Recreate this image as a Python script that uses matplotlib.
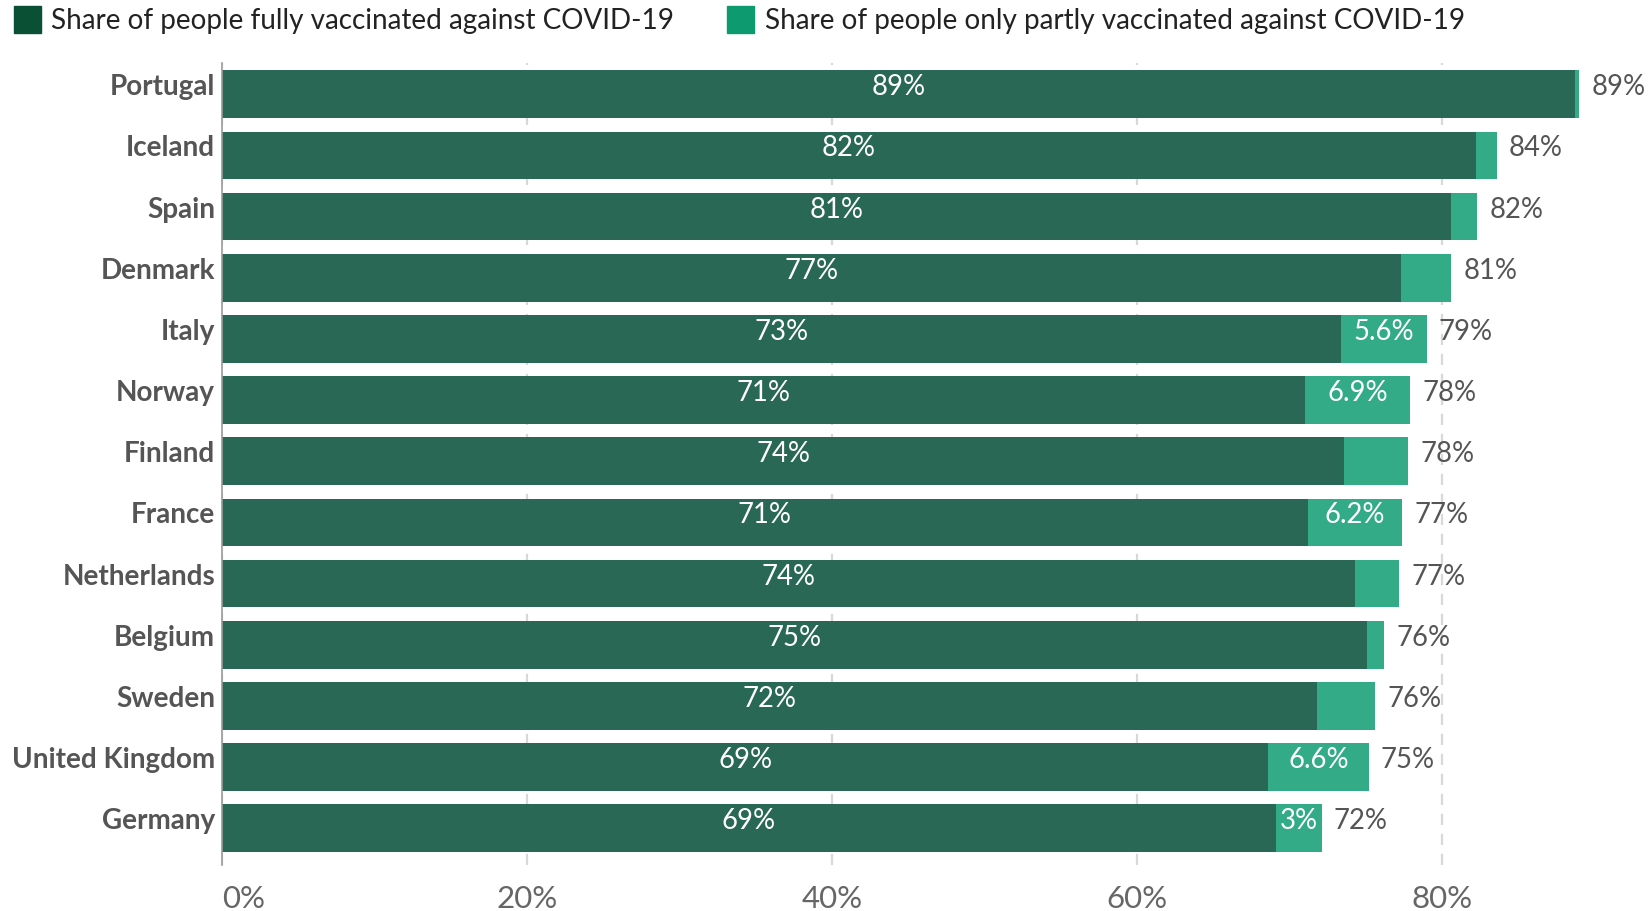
import matplotlib
matplotlib.use("Agg")
import matplotlib.pyplot as plt
from matplotlib.patches import Rectangle

plt.rcParams['font.family'] = ['Lato', 'DejaVu Sans']

# data (top to bottom)
countries = ["Portugal", "Iceland", "Spain", "Denmark", "Italy", "Norway", "Finland",
             "France", "Netherlands", "Belgium", "Sweden", "United Kingdom", "Germany"]
fully = [88.7, 82.2, 80.6, 77.3, 73.4, 71.0, 73.6, 71.2, 74.3, 75.1, 71.8, 68.6, 69.1]
partly = [0.3, 1.4, 1.7, 3.3, 5.6, 6.9, 4.2, 6.2, 2.9, 1.1, 3.8, 6.6, 3.0]
# which partial segments carry an inside label
show_partly = [False, False, False, False, True, True, False, True, False, False, False, True, True]
xticks = [0, 20, 40, 60, 80]

DARK = "#296854"
LIGHT = "#32ab86"
LEG_DARK = "#0a5035"
LEG_LIGHT = "#0c9a6e"

W, H = 1652, 912
fig = plt.figure(figsize=(W / 100, H / 100), dpi=100)
ax_left, ax_right, ax_top, ax_bottom = 222, 1652, 64, 866
ax = fig.add_axes([ax_left / W, 1 - ax_bottom / H, (ax_right - ax_left) / W, (ax_bottom - ax_top) / H])

px_per_pct = 15.25
ax.set_xlim(0, (ax_right - ax_left) / px_per_pct)
n = len(countries)
ax.set_ylim(n - 1 + 0.6, -0.51)

ys = list(range(n))
ax.barh(ys, fully, height=0.78, color=DARK, zorder=2)
ax.barh(ys, partly, left=fully, height=0.78, color=LIGHT, zorder=2)

off = -0.13  # text sits a bit above the bar centre
for y, f, p, s in zip(ys, fully, partly, show_partly):
    ax.text(f / 2, y + off, f"{f:.0f}%", color="white", fontsize=19.8,
            ha="center", va="center", zorder=3)
    if s:
        ax.text(f + p / 2, y + off, f"{p:.2g}%", color="white", fontsize=19.8,
                ha="center", va="center", zorder=3)
    ax.text(f + p + 0.8, y + off, f"{f + p:.0f}%", color="#555555", fontsize=19.8,
            ha="left", va="center", zorder=3)

ax.set_yticks([y + off for y in ys])
ax.set_yticklabels(countries, fontsize=20.1, fontweight="bold", color="#555555", va="center")
ax.tick_params(axis="y", length=0, pad=5)

ax.set_xticks(xticks)
ax.set_xticklabels([f"{t}%" for t in xticks], fontsize=22.5, color="#666666")
ax.get_xticklabels()[0].set_horizontalalignment("left")
ax.tick_params(axis="x", length=0, pad=14)

ax.grid(axis="x", color="#d8d8d8", linestyle=(0, (5, 4)), linewidth=1.6, zorder=0)
for sp in ["top", "right", "bottom"]:
    ax.spines[sp].set_visible(False)
ax.spines["left"].set_color("#999999")
ax.spines["left"].set_linewidth(1.2)

# legend drawn by hand
def leg_item(x_sq, x_txt, color, label):
    fig.patches.append(Rectangle((x_sq / W, 1 - 34 / H), 27 / W, 27 / H,
                                 transform=fig.transFigure, color=color))
    fig.text(x_txt / W, 1 - 21 / H, label, fontsize=20.1, color="#222222",
             ha="left", va="center")

leg_item(14, 51, LEG_DARK, "Share of people fully vaccinated against COVID-19")
leg_item(727, 765, LEG_LIGHT, "Share of people only partly vaccinated against COVID-19")

fig.savefig("out.png", dpi=100)
